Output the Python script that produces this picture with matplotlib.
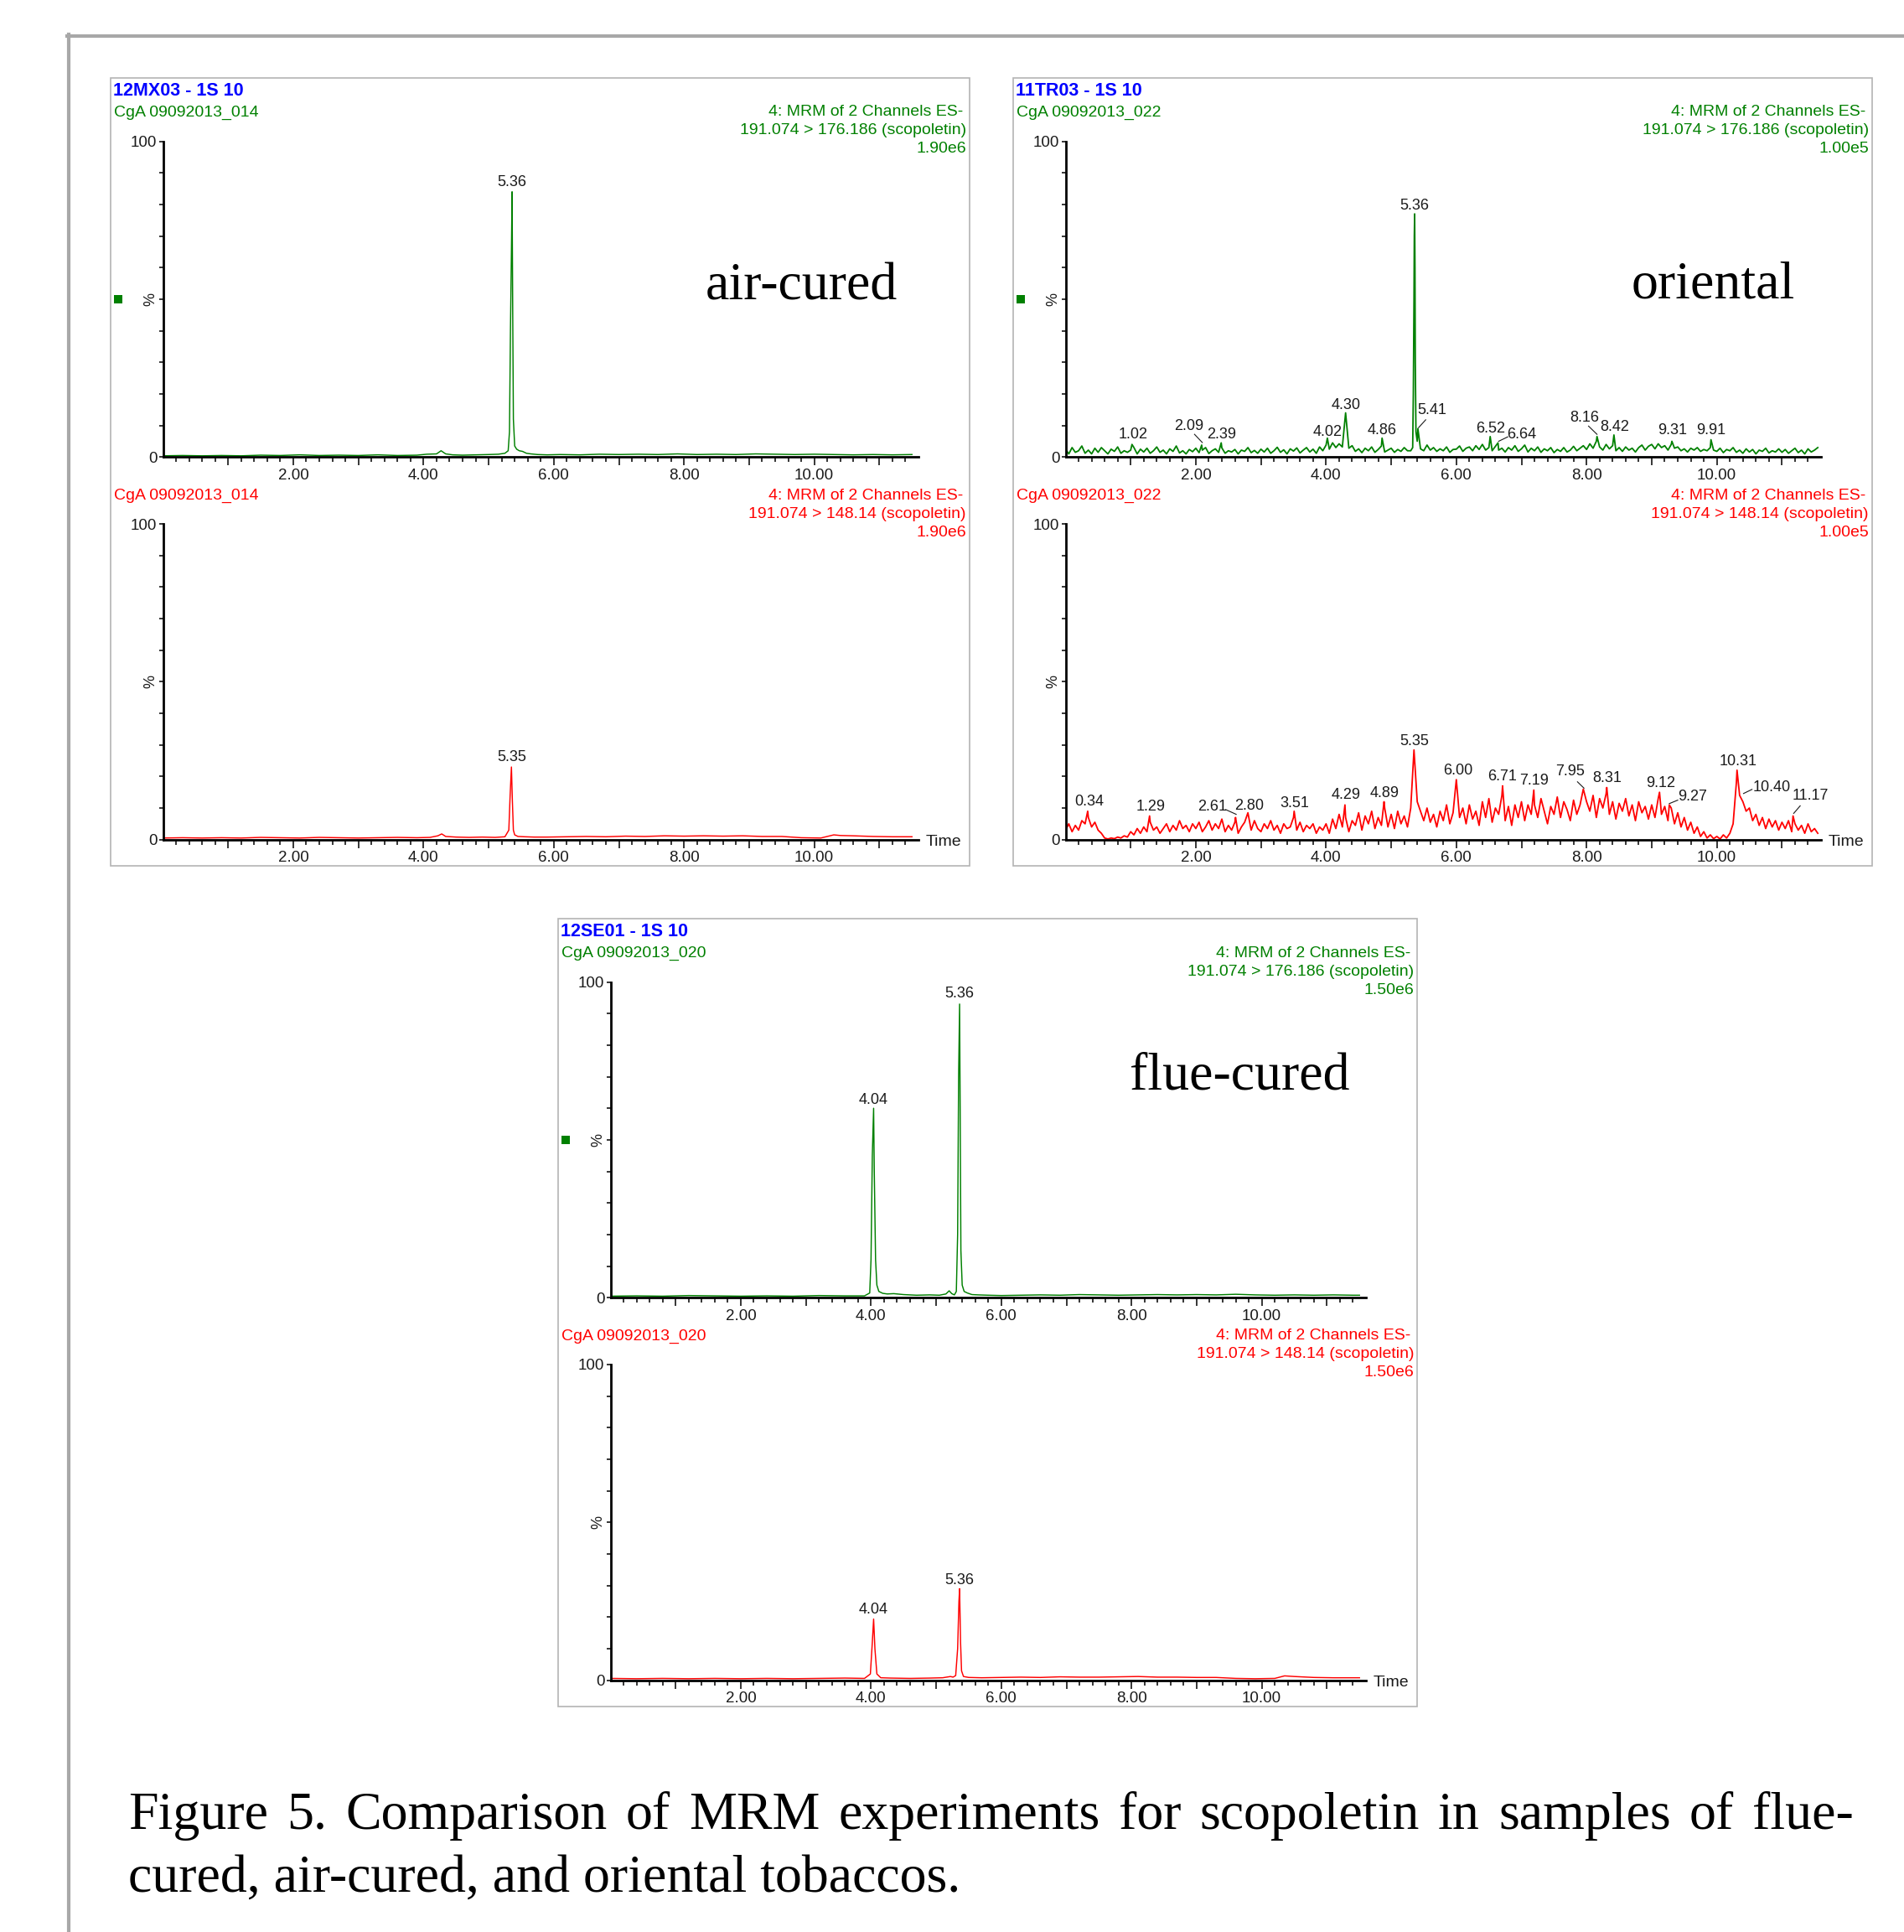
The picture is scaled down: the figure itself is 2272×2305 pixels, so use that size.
import numpy as np
import matplotlib
matplotlib.use('Agg')
import matplotlib.pyplot as plt
from matplotlib.patches import Rectangle
from matplotlib.lines import Line2D
from matplotlib.ticker import FixedLocator

# ---------------------------------------------------------------- data ----
# Air-cured (12MX03), channel 191.074 > 176.186 (green)
air_q_t = [0.0, 0.3, 0.6, 0.9, 1.2, 1.5, 1.8, 2.1, 2.4, 2.7,
           3.0, 3.3, 3.6, 3.9, 4.05, 4.2, 4.27, 4.34, 4.45, 4.6,
           4.8, 5.0, 5.15, 5.25, 5.30, 5.32, 5.335, 5.35, 5.36, 5.37,
           5.38, 5.40, 5.43, 5.47, 5.52, 5.58, 5.65, 5.75, 5.9, 6.1,
           6.4, 6.7, 7.0, 7.3, 7.6, 7.9, 8.2, 8.5, 8.8, 9.1,
           9.4, 9.7, 10.0, 10.3, 10.6, 10.9, 11.2, 11.5]
air_q_v = [0.4, 0.5, 0.4, 0.5, 0.4, 0.6, 0.5, 0.7, 0.5, 0.6,
           0.5, 0.7, 0.5, 0.6, 0.9, 1.0, 2.0, 1.0, 0.7, 0.6,
           0.7, 0.8, 0.9, 1.2, 2.0, 8.0, 40.0, 65.0, 84.0, 45.0,
           12.0, 3.5, 2.5, 2.0, 1.8, 1.2, 1.0, 0.8, 0.7, 0.8,
           0.7, 0.9, 0.8, 0.9, 0.8, 1.0, 0.8, 0.9, 0.8, 1.0,
           0.9, 0.8, 0.9, 0.8, 0.7, 0.8, 0.7, 0.8]
# Air-cured, channel 191.074 > 148.14 (red)
air_c_t = [0.0, 0.3, 0.6, 0.9, 1.2, 1.5, 1.8, 2.1, 2.4, 2.7,
           3.0, 3.3, 3.6, 3.9, 4.1, 4.22, 4.28, 4.34, 4.5, 4.7,
           4.9, 5.1, 5.25, 5.31, 5.33, 5.35, 5.365, 5.38, 5.40, 5.45,
           5.55, 5.7, 5.9, 6.2, 6.5, 6.8, 7.1, 7.4, 7.7, 8.0,
           8.3, 8.6, 8.9, 9.2, 9.5, 9.8, 10.1, 10.3, 10.4, 10.6,
           10.9, 11.2, 11.5]
air_c_v = [0.5, 0.6, 0.5, 0.6, 0.5, 0.7, 0.6, 0.5, 0.7, 0.6,
           0.5, 0.6, 0.7, 0.6, 0.7, 1.2, 1.8, 1.0, 0.8, 0.7,
           0.8, 0.7, 0.9, 3.0, 14.0, 23.0, 12.0, 3.0, 1.5, 1.0,
           0.9, 0.8, 0.8, 0.9, 1.0, 0.9, 1.1, 1.0, 1.2, 1.1,
           1.2, 1.1, 1.2, 1.0, 1.0, 0.6, 0.5, 1.5, 1.3, 1.2,
           1.0, 0.9, 0.9]

# Oriental (11TR03): sampled every 0.05 min from 0.00 to 11.55
ori_grid_start, ori_grid_step = 0.0, 0.05
ori_q_noise = [
    2.5, 1.0, 3.0, 1.5, 2.0, 3.5, 1.2, 2.2, 1.0, 2.8, 1.5, 3.0, 2.0, 1.0, 2.5, 1.8, 3.2, 1.2, 2.0, 1.5,
    2.2, 3.0, 1.0, 2.5, 1.6, 2.8, 1.2, 2.0, 3.2, 1.5, 2.2, 1.0, 2.6, 1.8, 3.5, 1.3, 2.0, 1.0, 2.4, 1.7,
    2.8, 1.4, 2.2, 3.0, 1.1, 2.0, 2.6, 1.5, 2.9, 1.2, 2.0, 1.6, 2.4, 1.0, 2.2, 1.8, 3.0, 1.4, 2.1, 1.2,
    2.5, 1.6, 2.8, 1.2, 2.0, 3.1, 1.5, 2.3, 1.0, 2.6, 1.9, 2.9, 1.3, 2.2, 3.0, 1.6, 2.5, 1.2, 3.2, 2.0,
    3.8, 2.5, 4.5, 3.0, 4.2, 3.2, 14.0, 2.8, 3.6, 1.8, 2.6, 1.4, 2.8, 2.0, 3.2, 1.5, 2.4, 3.5, 1.6, 2.2,
    2.8, 1.5, 2.4, 1.8, 3.0, 2.0, 2.0, 50.0, 5.0, 2.6, 2.0, 3.8, 2.2, 3.0, 1.8, 2.6, 2.0, 3.2, 1.5, 2.4,
    2.5, 3.5, 1.8, 2.8, 3.2, 2.0, 3.6, 2.4, 4.0, 2.2, 3.0, 2.0, 3.4, 2.2, 2.8, 1.6, 3.0, 2.2, 3.6, 1.8,
    2.6, 3.8, 1.6, 2.8, 2.0, 3.2, 1.5, 2.6, 2.0, 3.0, 1.4, 2.4, 1.8, 3.0, 1.6, 2.2, 3.4, 2.0, 2.8, 3.6,
    2.4, 4.2, 2.8, 5.0, 3.2, 2.2, 4.0, 2.6, 3.6, 2.0, 3.0, 1.8, 3.2, 2.2, 2.8, 1.6, 3.0, 3.8, 2.2, 3.4,
    4.0, 2.6, 4.2, 3.0, 3.6, 2.2, 4.0, 2.8, 3.2, 2.0, 2.6, 1.6, 2.8, 2.2, 3.0, 1.8, 2.4, 2.0, 3.0, 2.2,
    1.8, 2.8, 1.4, 2.4, 2.0, 3.0, 1.5, 2.2, 1.2, 2.6, 1.6, 2.4, 1.0, 2.2, 1.8, 2.8, 1.3, 2.0, 1.6, 2.6,
    1.5, 2.4, 1.2, 2.0, 2.8, 1.4, 2.2, 1.0, 2.6, 1.6, 2.2, 3.0]
ori_q_peak_t = [1.02, 2.09, 2.39, 4.02, 4.86, 5.33, 5.34, 5.355, 5.36, 5.365,
                5.37, 5.38, 5.41, 6.52, 6.64, 8.16, 8.42, 9.31, 9.91]
ori_q_peak_v = [4.0, 3.8, 4.5, 6.0, 6.0, 3.0, 20.0, 70.0, 77.0, 60.0,
                30.0, 8.0, 9.0, 6.5, 4.5, 6.5, 7.0, 5.0, 5.5]

ori_c_noise = [
    3.0, 5.0, 2.5, 4.5, 3.0, 6.0, 5.0, 7.0, 4.0, 5.5, 3.0, 2.0, 0.5, 0.2, 0.5, 0.3, 0.8, 0.5, 1.2, 0.8,
    2.5, 1.5, 3.5, 2.0, 4.0, 2.5, 5.5, 3.0, 4.0, 2.0, 3.5, 5.0, 2.5, 4.5, 3.0, 6.0, 3.5, 4.5, 2.5, 5.0,
    3.5, 5.5, 2.5, 4.0, 6.0, 3.0, 5.0, 3.5, 6.5, 2.5, 4.5, 3.0, 5.5, 2.0, 4.0, 5.5, 8.5, 3.0, 6.0, 3.5,
    2.5, 5.0, 3.5, 6.0, 3.0, 4.5, 2.0, 5.0, 3.5, 4.0, 7.0, 3.0, 5.5, 2.5, 4.5, 3.5, 5.0, 2.0, 4.0, 3.0,
    5.0, 2.0, 6.5, 3.5, 8.0, 4.0, 7.0, 2.5, 6.0, 4.5, 8.5, 3.0, 7.5, 5.0, 9.0, 3.5, 7.0, 4.5, 10.0, 4.0,
    8.0, 3.5, 9.0, 5.0, 7.5, 4.0, 10.0, 28.4, 12.0, 9.0, 6.0, 10.0, 5.5, 8.0, 4.0, 9.0, 6.0, 11.0, 5.0, 8.5,
    19.0, 7.0, 10.0, 5.0, 11.0, 6.5, 9.0, 4.5, 12.0, 7.0, 13.0, 5.5, 10.0, 8.0, 14.0, 6.0, 10.5, 4.5, 11.0, 7.0,
    12.0, 6.0, 11.0, 8.0, 11.0, 7.0, 13.0, 9.0, 5.0, 10.5, 8.0, 13.5, 7.0, 12.0, 9.5, 6.0, 12.5, 8.0, 11.0, 16.0,
    12.0, 9.0, 14.0, 7.0, 13.0, 10.0, 14.5, 8.0, 12.0, 6.5, 11.5, 9.0, 13.0, 7.5, 11.0, 6.0, 12.0, 8.5, 10.5, 6.5,
    11.0, 7.0, 13.0, 8.0, 10.5, 6.0, 10.0, 5.0, 8.5, 4.0, 7.0, 3.0, 5.5, 2.0, 4.0, 1.0, 2.5, 0.5, 1.5, 0.3,
    1.0, 0.2, 1.5, 0.5, 2.0, 5.0, 18.0, 14.0, 12.0, 9.0, 10.0, 6.0, 8.0, 4.5, 7.0, 3.5, 6.5, 4.0, 6.0, 3.0,
    5.5, 3.5, 6.0, 2.5, 5.0, 3.0, 4.5, 2.0, 5.0, 2.5, 3.5, 2.0]
ori_c_peak_t = [0.34, 1.29, 2.61, 3.51, 4.29, 4.89, 6.71, 7.19, 8.31, 9.12, 9.27, 10.31, 11.17]
ori_c_peak_v = [9.0, 7.5, 7.0, 9.0, 11.0, 12.0, 17.0, 15.7, 16.5, 15.0, 11.0, 22.0, 7.5]

# Flue-cured (12SE01)
flue_q_t = [0.0, 0.4, 0.8, 1.2, 1.6, 2.0, 2.4, 2.8, 3.2, 3.6,
            3.9, 3.98, 4.00, 4.02, 4.04, 4.05, 4.07, 4.09, 4.12, 4.18,
            4.25, 4.35, 4.5, 4.7, 4.9, 5.05, 5.15, 5.20, 5.24, 5.28,
            5.31, 5.33, 5.345, 5.36, 5.37, 5.38, 5.40, 5.43, 5.48, 5.55,
            5.65, 5.8, 6.0, 6.3, 6.6, 6.9, 7.2, 7.5, 7.8, 8.1,
            8.4, 8.7, 9.0, 9.3, 9.6, 9.9, 10.2, 10.5, 10.8, 11.1,
            11.4, 11.5]
flue_q_v = [0.5, 0.6, 0.5, 0.7, 0.6, 0.5, 0.6, 0.5, 0.7, 0.6,
            0.6, 1.5, 12.0, 45.0, 60.0, 40.0, 12.0, 4.0, 2.0, 1.4,
            1.2, 1.3, 1.0, 0.8, 0.9, 0.8, 1.2, 2.2, 1.3, 0.9,
            2.0, 20.0, 70.0, 93.0, 55.0, 15.0, 4.0, 2.0, 1.5, 1.0,
            0.9, 0.8, 0.7, 0.8, 0.9, 0.8, 1.0, 0.9, 0.8, 0.9,
            1.0, 0.9, 1.0, 0.9, 1.1, 0.9, 0.8, 0.9, 0.8, 0.9,
            0.8, 0.8]
flue_c_t = [0.0, 0.4, 0.8, 1.2, 1.6, 2.0, 2.4, 2.8, 3.2, 3.6,
            3.9, 3.99, 4.02, 4.04, 4.06, 4.09, 4.15, 4.3, 4.6, 4.9,
            5.1, 5.22, 5.26, 5.30, 5.33, 5.35, 5.36, 5.375, 5.39, 5.42,
            5.5, 5.7, 6.0, 6.3, 6.6, 6.9, 7.2, 7.5, 7.8, 8.1,
            8.4, 8.7, 9.0, 9.3, 9.6, 9.9, 10.2, 10.35, 10.5, 10.8,
            11.1, 11.5]
flue_c_v = [0.6, 0.5, 0.6, 0.5, 0.6, 0.5, 0.6, 0.5, 0.6, 0.7,
            0.6, 2.0, 12.0, 19.4, 10.0, 2.0, 0.8, 0.7, 0.6, 0.7,
            0.8, 1.2, 1.0, 1.5, 10.0, 25.0, 29.0, 12.0, 3.0, 1.2,
            0.9, 0.8, 0.9, 1.0, 0.9, 1.1, 1.0, 1.0, 1.1, 1.2,
            1.0, 1.0, 0.9, 0.9, 0.6, 0.5, 0.6, 1.4, 1.2, 0.9,
            0.8, 0.8]

# peak labels: (text, label time, label % centre, leader line or None)
air_q_labels = [('5.36', 5.36, 86.9, None)]
air_c_labels = [('5.35', 5.35, 26.0, None)]
ori_q_labels = [('5.36', 5.36, 79.6, None), ('4.30', 4.30, 16.4, None),
                ('5.41', 5.63, 14.8, (5.42, 9.3, 5.53, 11.8)),
                ('1.02', 1.04, 7.0, None),
                ('2.09', 1.90, 9.8, (1.98, 7.2, 2.10, 4.6)),
                ('2.39', 2.39, 7.0, None), ('4.02', 4.02, 8.0, None),
                ('4.86', 4.86, 8.5, None), ('6.52', 6.53, 9.0, None),
                ('6.64', 7.00, 7.2, (6.65, 5.0, 6.79, 6.4)),
                ('8.16', 7.97, 12.5, (8.03, 9.8, 8.16, 7.2)),
                ('8.42', 8.43, 9.5, None), ('9.31', 9.32, 8.5, None),
                ('9.91', 9.91, 8.5, None)]
ori_c_labels = [('0.34', 0.36, 12.0, None), ('1.29', 1.31, 10.3, None),
                ('2.61', 2.25, 10.3, (2.46, 9.5, 2.62, 8.0)),
                ('2.80', 2.82, 10.8, None), ('3.51', 3.52, 11.5, None),
                ('4.29', 4.31, 14.0, None), ('4.89', 4.90, 14.6, None),
                ('5.35', 5.35, 31.0, None), ('6.00', 6.02, 21.8, None),
                ('6.71', 6.70, 20.0, None), ('7.19', 7.20, 18.7, None),
                ('7.95', 7.75, 21.5, (7.86, 18.3, 7.96, 16.3)),
                ('8.31', 8.31, 19.4, None), ('9.12', 9.14, 17.8, None),
                ('9.27', 9.62, 13.5, (9.27, 11.4, 9.40, 12.5)),
                ('10.31', 10.33, 24.7, None),
                ('10.40', 10.84, 16.4, (10.41, 14.6, 10.54, 15.9)),
                ('11.17', 11.44, 13.8, (11.18, 8.3, 11.28, 10.7))]
flue_q_labels = [('4.04', 4.04, 62.6, None), ('5.36', 5.36, 96.2, None)]
flue_c_labels = [('4.04', 4.04, 22.3, None), ('5.36', 5.36, 31.7, None)]

x_tick_labels = ['2.00', '4.00', '6.00', '8.00', '10.00']
x_tick_vals = [2, 4, 6, 8, 10]

quant_channel = '191.074 > 176.186 (scopoletin)'
conf_channel = '191.074 > 148.14 (scopoletin)'
mrm_title = '4: MRM of 2 Channels ES-'

caption1 = 'Figure 5. Comparison of MRM experiments for scopoletin in samples of flue-'
caption2 = 'cured, air-cured, and oriental tobaccos.'


def merged(noise, peak_t, peak_v):
    t = [round(ori_grid_start + i * ori_grid_step, 2) for i in range(len(noise))]
    tt = np.array(t + peak_t)
    vv = np.array(list(noise) + peak_v)
    o = np.argsort(tt, kind='stable')
    return tt[o], vv[o]


ori_q_t, ori_q_v = merged(ori_q_noise, ori_q_peak_t, ori_q_peak_v)
ori_c_t, ori_c_v = merged(ori_c_noise, ori_c_peak_t, ori_c_peak_v)

panels = [
    dict(box=(132, 93), sample='12MX03 - 1S 10', file='CgA 09092013_014', scale='1.90e6',
         name='air-cured', name_off=(939, 265), lw=1.05,
         q=(air_q_t, air_q_v), c=(air_c_t, air_c_v), ql=air_q_labels, cl=air_c_labels),
    dict(box=(1209, 93), sample='11TR03 - 1S 10', file='CgA 09092013_022', scale='1.00e5',
         name='oriental', name_off=(933, 263), lw=1.3,
         q=(ori_q_t, ori_q_v), c=(ori_c_t, ori_c_v), ql=ori_q_labels, cl=ori_c_labels),
    dict(box=(666, 1096), sample='12SE01 - 1S 10', file='CgA 09092013_020', scale='1.50e6',
         name='flue-cured', name_off=(944, 204), lw=1.05,
         q=(flue_q_t, flue_q_v), c=(flue_c_t, flue_c_v), ql=flue_q_labels, cl=flue_c_labels),
]

# --------------------------------------------------------------- layout ---
W, H = 2272, 2305
DPI = 100
SANS = ['Liberation Sans', 'DejaVu Sans']
SERIF = ['Liberation Serif', 'DejaVu Serif']
GREEN, RED, BLUE, INK = '#008000', '#ff0000', '#0000ff', '#1a1a1a'
plt.rcParams['font.family'] = SANS

fig = plt.figure(figsize=(W / DPI, H / DPI), dpi=DPI)
fig.patch.set_facecolor('white')


def fx(x):
    return x / W


def fy(y):
    return 1 - y / H


def ftext(x, y, s, **kw):
    return fig.text(fx(x), fy(y), s, **kw)


# outer frame (top and left edges)
fig.add_artist(Line2D([fx(80), fx(W)], [fy(43), fy(43)], color='#a8a8a8', lw=3.0))
fig.add_artist(Line2D([fx(82), fx(82)], [fy(41), fy(H)], color='#a8a8a8', lw=3.0))

BOX_W, BOX_H = 1025, 940
AX_L, AX_W = 62.5, 901.5
UP = (75.5, 452.3)
LO = (532.0, 908.7)
XMAX = 11.6

minor_ticks = [round(i * 0.2, 1) for i in range(1, 58) if i % 5 != 0]
major_ticks = list(range(1, 12))


def style_axes(ax):
    ax.set_xlim(0, XMAX)
    ax.set_ylim(0, 100)
    ax.patch.set_alpha(0)
    for s in ('top', 'right'):
        ax.spines[s].set_visible(False)
    for s in ('left', 'bottom'):
        ax.spines[s].set_linewidth(2.0)
        ax.spines[s].set_color('black')
    ax.xaxis.set_major_locator(FixedLocator(major_ticks))
    ax.set_xticklabels([x_tick_labels[x_tick_vals.index(m)] if m in x_tick_vals else ''
                        for m in major_ticks])
    ax.xaxis.set_minor_locator(FixedLocator(minor_ticks))
    ax.tick_params(axis='x', which='major', length=7.2, width=1.1, pad=2.5,
                   labelsize=13.5, labelcolor=INK, direction='out')
    ax.tick_params(axis='x', which='minor', length=4.3, width=1.1, direction='out')
    ax.set_yticks(list(range(0, 101, 10)))
    ax.set_yticklabels(['0'] + [''] * 9 + ['100'])
    ax.tick_params(axis='y', which='major', length=3.6, width=1.1, pad=1.5,
                   labelsize=13.5, labelcolor=INK, direction='out')


def draw_labels(ax, labels):
    for txt, lx, ly, leader in labels:
        ax.text(lx, ly, txt, ha='center', va='center', fontsize=13, color=INK)
        if leader is not None:
            ax.plot([leader[0], leader[2]], [leader[1], leader[3]], color=INK, lw=0.8)


for p in panels:
    bx, by = p['box']
    fig.add_artist(Rectangle((fx(bx), fy(by + BOX_H)), BOX_W / W, BOX_H / H,
                             transform=fig.transFigure, fill=False,
                             edgecolor='#b4b4b4', lw=1.2))
    ftext(bx + 3, by + 15, p['sample'], ha='left', va='center', fontsize=15.5,
          fontweight='bold', color=BLUE)
    for (off, col, chan) in ((41, GREEN, quant_channel), (498, RED, conf_channel)):
        ftext(bx + 4, by + off, p['file'], ha='left', va='center', fontsize=14, color=col)
        ftext(bx + 1017, by + off, mrm_title, ha='right', va='center', fontsize=14, color=col)
        ftext(bx + 1021, by + off + 22, chan, ha='right', va='center', fontsize=14, color=col)
        ftext(bx + 1021, by + off + 44, p['scale'], ha='right', va='center', fontsize=14, color=col)

    for (rng, (tt, vv), col, labs, lower) in ((UP, p['q'], GREEN, p['ql'], False),
                                               (LO, p['c'], RED, p['cl'], True)):
        top, bot = by + rng[0], by + rng[1]
        ax = fig.add_axes([fx(bx + AX_L), fy(bot), AX_W / W, (bot - top) / H])
        style_axes(ax)
        ax.plot(tt, vv, color=col, lw=p['lw'], zorder=2)
        draw_labels(ax, labs)
        mid = (top + bot) / 2
        ftext(bx + AX_L - 15, mid, '%', ha='center', va='center', rotation=90,
              fontsize=13, color=INK)
        if lower:
            ftext(bx + AX_L + AX_W + 9, bot + 3, 'Time', ha='left', va='center',
                  fontsize=14, color=INK)
        else:
            fig.add_artist(Rectangle((fx(bx + 4), fy(mid + 5)), 10 / W, 10 / H,
                                     transform=fig.transFigure, color=GREEN, lw=0))

    ftext(bx + p['name_off'][0], by + p['name_off'][1], p['name'], ha='right',
          va='baseline', fontsize=46, family=SERIF, color='black')

# caption: first line justified, second left aligned
CAP_L, CAP_R, BASE1, BASE2 = 153, 2212, 2182, 2257
CAP_FS = 46
renderer = fig.canvas.get_renderer()
words = caption1.split(' ')
wtexts = [ftext(0, BASE1, w, fontsize=CAP_FS, family=SERIF, color='black', va='baseline')
          for w in words]
widths = [t.get_window_extent(renderer).width for t in wtexts]
gap = (CAP_R - CAP_L - sum(widths)) / (len(words) - 1)
x = CAP_L
for t, w in zip(wtexts, widths):
    t.set_position((fx(x), fy(BASE1)))
    x += w + gap
ftext(CAP_L, BASE2, caption2, fontsize=CAP_FS, family=SERIF, color='black', va='baseline')

fig.savefig('out.png', dpi=DPI, facecolor='white')
